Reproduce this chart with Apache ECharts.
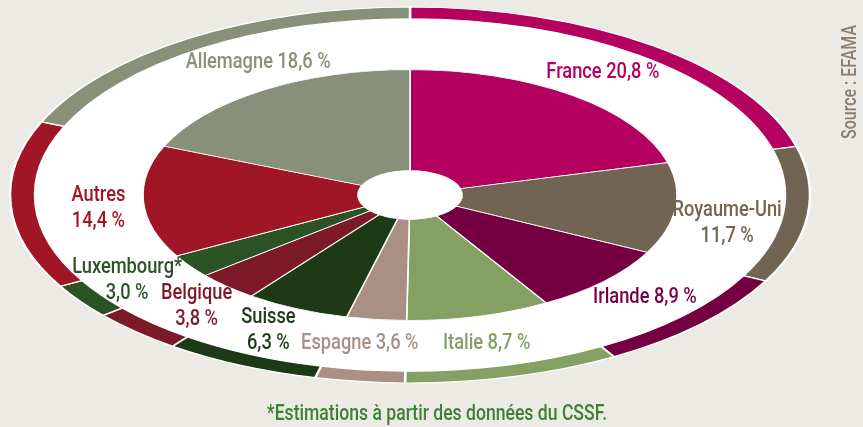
<!DOCTYPE html>
<html>
<head>
<meta charset="utf-8">
<script src="https://cdn.jsdelivr.net/npm/echarts@6/dist/echarts.min.js"></script>
<style>
html,body{margin:0;padding:0;background:#EBEAE5;}
#chart{width:863px;height:427px;}
</style>
</head>
<body>
<div id="chart"></div>
<script>
// ---- data ----
const countries = ['France', 'Royaume-Uni', 'Irlande', 'Italie', 'Espagne', 'Suisse', 'Belgique', 'Luxembourg*', 'Autres', 'Allemagne'];
const shares = [20.8, 11.7, 8.9, 8.7, 3.6, 6.3, 3.8, 3.0, 14.4, 18.6];
const colors = ['#B4005E', '#726453', '#750041', '#84A062', '#A98F84', '#1D3A17', '#7D1A2A', '#2B5326', '#A01626', '#889079'];
const footnote = '*Estimations à partir des données du CSSF.';
const source = 'Source : EFAMA';

// ---- layout (not data) ----
const CX = 410, CY = 195, SY = 0.47;
const R_PIE = 267, R_HOLE = 52, R_RING0 = 375, R_RING1 = 400, R_LABEL = 320;
const labelBreak = [false, true, false, false, false, true, true, true, true, false];
const labelShift = [[-2,-3],[-1,12],[2,-1],[-6,3],[-10,-1],[-6,-1],[6,2],[-19,0],[8,5],[25,-7]];
const FAMILY = 'Roboto,"Liberation Sans",Arial,sans-serif';
const FONT = '500 22px ' + FAMILY;
const NARROW = 0.83;

const total = shares.reduce((a, b) => a + b, 0);
const fmt = v => v.toFixed(1).replace('.', ',') + ' %';

function renderItem(params, api) {
  const i = params.dataIndex;
  let cum = 0;
  for (let k = 0; k < i; k++) cum += shares[k];
  const a0 = -Math.PI / 2 + 2 * Math.PI * cum / total;
  const a1 = -Math.PI / 2 + 2 * Math.PI * (cum + shares[i]) / total;
  const mid = (a0 + a1) / 2;
  const txt = countries[i] + (labelBreak[i] ? '\n' : ' ') + fmt(shares[i]);
  return {
    type: 'group',
    children: [
      {
        type: 'sector', x: CX, y: CY, scaleY: SY,
        shape: { cx: 0, cy: 0, r: R_PIE, r0: R_HOLE, startAngle: a0, endAngle: a1, clockwise: true },
        style: { fill: colors[i], stroke: '#fff', lineWidth: 1.6 }
      },
      {
        type: 'sector', x: CX, y: CY, scaleY: SY,
        shape: { cx: 0, cy: 0, r: R_RING1, r0: R_RING0, startAngle: a0, endAngle: a1, clockwise: true },
        style: { fill: colors[i], stroke: '#fff', lineWidth: 2.5 }
      },
      {
        type: 'text',
        x: CX + R_LABEL * Math.cos(mid) + labelShift[i][0],
        y: CY + R_LABEL * SY * Math.sin(mid) + labelShift[i][1],
        scaleX: NARROW,
        style: { text: txt, fill: colors[i], font: FONT, align: 'center', verticalAlign: 'middle', lineHeight: 26 }
      }
    ]
  };
}

const chart = echarts.init(document.getElementById('chart'));
chart.setOption({
  backgroundColor: '#EBEAE5',
  animation: false,
  graphic: [
    { type: 'ellipse', z: 0, shape: { cx: CX, cy: CY, rx: R_RING1, ry: R_RING1 * SY }, style: { fill: '#fff' } },
    { type: 'text', z: 5, x: 851, y: 82, rotation: Math.PI / 2, scaleX: 0.8,
      style: { text: source, fill: '#8C7E6E', font: '500 20px ' + FAMILY, align: 'center', verticalAlign: 'middle' } },
    { type: 'text', z: 5, x: 437, y: 414, scaleX: 0.8,
      style: { text: footnote, fill: '#3F8035', font: '500 22px ' + FAMILY, align: 'center', verticalAlign: 'middle' } }
  ],
  series: [{
    type: 'custom',
    coordinateSystem: 'none',
    z: 2,
    data: shares.map((v, i) => ({ name: countries[i], value: v })),
    renderItem: renderItem
  }]
});
</script>
</body>
</html>
